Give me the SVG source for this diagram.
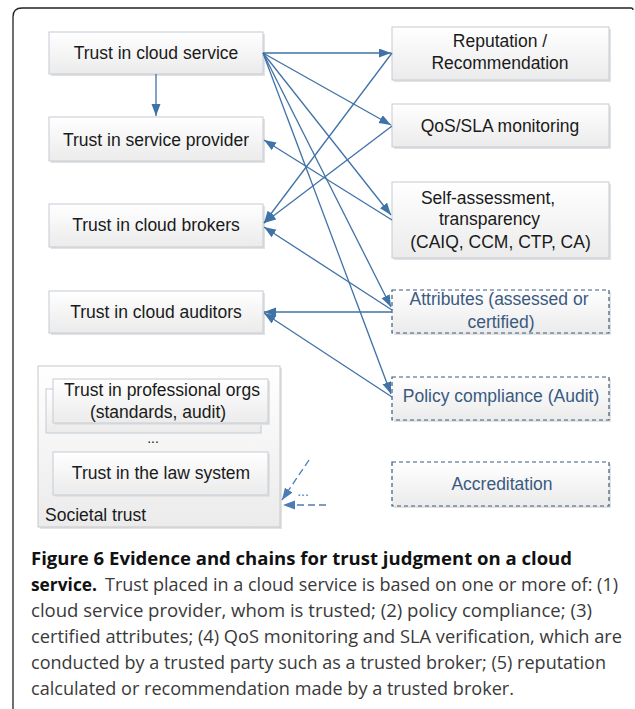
<svg xmlns="http://www.w3.org/2000/svg" width="635" height="709" viewBox="0 0 635 709">
<defs>
<linearGradient id="g" x1="0" y1="0" x2="0" y2="1">
<stop offset="0" stop-color="#ffffff"/>
<stop offset="1" stop-color="#ebebeb"/>
</linearGradient>
<marker id="ah" markerUnits="userSpaceOnUse" markerWidth="13" markerHeight="10" refX="12" refY="4.5" orient="auto">
<path d="M0,0 L12,4.5 L0,9 z" fill="#3f72a6"/>
</marker>
<marker id="ahd" markerUnits="userSpaceOnUse" markerWidth="13" markerHeight="10" refX="12" refY="4.5" orient="auto">
<path d="M0,0 L12,4.5 L0,9 z" fill="#4a7db3"/>
</marker>
</defs>
<style>
.box{fill:url(#g);stroke:#c3ccd6;stroke-width:1}
.sh{fill:#e2e2e2}
.dbox{fill:url(#g);stroke:#3d5a7a;stroke-width:1.2;stroke-dasharray:4,3}
.t{font-family:"Liberation Sans",Arial,sans-serif;font-size:17.5px;fill:#1a1a1a;text-anchor:middle}
.dt{font-family:"Liberation Sans",Arial,sans-serif;font-size:17.5px;fill:#3a5a80;text-anchor:middle}
.c{stroke:#3f72a6;stroke-width:1.3;fill:none;marker-end:url(#ah)}
.cd{stroke:#4a7db3;stroke-width:1.3;fill:none;stroke-dasharray:7,4;marker-end:url(#ahd)}
.cap{font-family:"Open Sans","Liberation Sans",sans-serif;font-size:18px;fill:#3a3a3a}
.capb{font-family:"Open Sans","Liberation Sans",sans-serif;font-size:18px;font-weight:bold;fill:#111111}
</style>
<rect width="635" height="709" fill="#ffffff"/>
<path d="M13,709 V17 Q13,8 22,8 H631 Q633,8 633,10" fill="none" stroke="#222" stroke-width="1.3"/>

<g id="n-cloud-service"><rect class="sh" x="51" y="34" width="214" height="42"/><rect class="box" x="49" y="32" width="214" height="42"/><text class="t" x="156" y="59">Trust in cloud service</text></g>
<g id="n-service-provider"><rect class="sh" x="51" y="119" width="214" height="44"/><rect class="box" x="49" y="117" width="214" height="44"/><text class="t" x="156" y="145.5">Trust in service provider</text></g>
<g id="n-cloud-brokers"><rect class="sh" x="51" y="206" width="214" height="43"/><rect class="box" x="49" y="204" width="214" height="43"/><text class="t" x="156" y="230.5">Trust in cloud brokers</text></g>
<g id="n-cloud-auditors"><rect class="sh" x="51" y="293" width="214" height="42"/><rect class="box" x="49" y="291" width="214" height="42"/><text class="t" x="156" y="317.5">Trust in cloud auditors</text></g>

<g id="n-societal">
<rect class="sh" x="40" y="368" width="242" height="161"/><rect class="box" x="38" y="366" width="242" height="161" style="stroke:#c8c8c8"/>
<rect class="box" x="46" y="389" width="215" height="44"/>
<rect class="sh" x="55" y="381" width="215" height="44"/><rect class="box" x="53" y="379" width="215" height="44"/>
<text class="t" x="162" y="396">Trust in professional orgs</text>
<text class="t" x="158" y="417.5">(standards, audit)</text>
<text class="t" x="153" y="443" style="font-size:14px">...</text>
<rect class="sh" x="55" y="454" width="215" height="43"/><rect class="box" x="53" y="452" width="215" height="43"/>
<text class="t" x="161" y="479">Trust in the law system</text>
<text class="t" x="45" y="521" style="text-anchor:start">Societal trust</text>
</g>

<g id="n-reputation"><rect class="sh" x="394" y="29" width="217" height="53"/><rect class="box" x="392" y="27" width="217" height="53"/><text class="t" x="500" y="47">Reputation /</text><text class="t" x="500" y="69">Recommendation</text></g>
<g id="n-qos"><rect class="sh" x="394" y="106" width="217" height="43"/><rect class="box" x="392" y="104" width="217" height="43"/><text class="t" x="500" y="132">QoS/SLA monitoring</text></g>
<g id="n-self"><rect class="sh" x="394" y="184" width="217" height="76"/><rect class="box" x="392" y="182" width="217" height="76"/><text class="t" x="488" y="203.5">Self-assessment,</text><text class="t" x="489.5" y="224.5">transparency</text><text class="t" x="500.5" y="248">(CAIQ, CCM, CTP, CA)</text></g>
<g id="n-attributes"><rect class="sh" x="394" y="292" width="217" height="43"/><rect class="dbox" x="392" y="290" width="217" height="43"/><text class="dt" x="499" y="305">Attributes (assessed or</text><text class="dt" x="501" y="328">certified)</text></g>
<g id="n-policy"><rect class="sh" x="394" y="379" width="217" height="43"/><rect class="dbox" x="392" y="377" width="217" height="43"/><text class="dt" x="501" y="402">Policy compliance (Audit)</text></g>
<g id="n-accreditation"><rect class="sh" x="394" y="464" width="217" height="44"/><rect class="dbox" x="392" y="462" width="217" height="44"/><text class="dt" x="502" y="489.5">Accreditation</text></g>

<g id="connectors">
<line class="c" x1="156" y1="74" x2="156" y2="116"/>
<line class="c" x1="263" y1="53" x2="391" y2="53"/>
<line class="c" x1="263" y1="53" x2="391" y2="125"/>
<line class="c" x1="263" y1="53" x2="391" y2="215"/>
<line class="c" x1="263" y1="53" x2="391" y2="307"/>
<line class="c" x1="263" y1="53" x2="391" y2="394"/>
<line class="c" x1="392" y1="220" x2="264" y2="140"/>
<line class="c" x1="392" y1="53" x2="264" y2="223"/>
<line class="c" x1="392" y1="126" x2="264" y2="223"/>
<line class="c" x1="392" y1="310" x2="264" y2="227"/>
<line class="c" x1="392" y1="312" x2="264" y2="312"/>
<line class="c" x1="392" y1="397" x2="264" y2="313"/>
<line class="cd" x1="309" y1="460" x2="282" y2="500"/>
<line class="cd" x1="326" y1="505" x2="283" y2="505"/>
<text x="303" y="496" style="font-family:'Liberation Sans',sans-serif;font-size:14px;fill:#4a7db3;text-anchor:middle">...</text>
</g>

<g id="caption">
<text class="capb" x="31" y="565" textLength="541" lengthAdjust="spacingAndGlyphs">Figure 6 Evidence and chains for trust judgment on a cloud</text>
<text class="capb" x="31" y="591" textLength="66" lengthAdjust="spacingAndGlyphs">service.</text>
<text class="cap" x="105" y="591" textLength="513" lengthAdjust="spacingAndGlyphs">Trust placed in a cloud service is based on one or more of: (1)</text>
<text class="cap" x="31" y="617" textLength="561" lengthAdjust="spacingAndGlyphs">cloud service provider, whom is trusted; (2) policy compliance; (3)</text>
<text class="cap" x="31" y="643" textLength="591" lengthAdjust="spacingAndGlyphs">certified attributes; (4) QoS monitoring and SLA verification, which are</text>
<text class="cap" x="31" y="669" textLength="575" lengthAdjust="spacingAndGlyphs">conducted by a trusted party such as a trusted broker; (5) reputation</text>
<text class="cap" x="31" y="695" textLength="483" lengthAdjust="spacingAndGlyphs">calculated or recommendation made by a trusted broker.</text>
</g>
</svg>
